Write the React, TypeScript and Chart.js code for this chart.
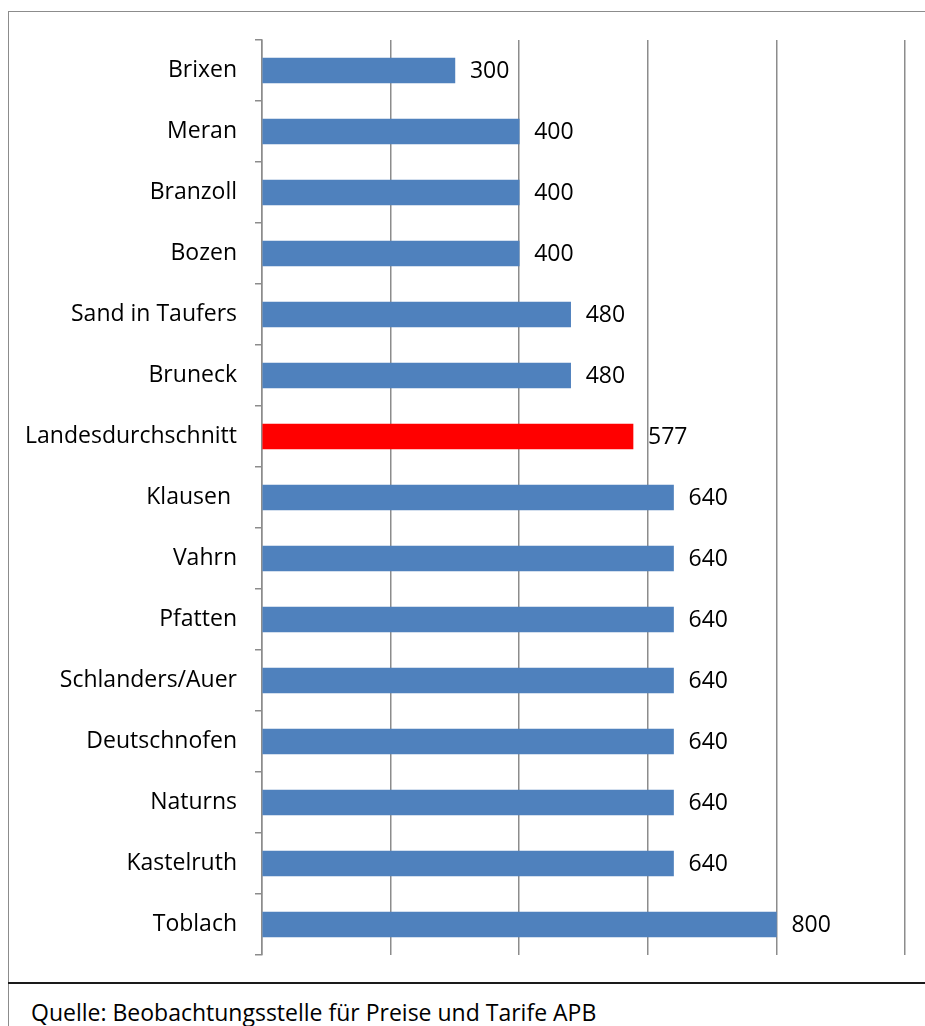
import React, { useEffect, useRef } from "react";
import { Chart, registerables } from "chart.js";

Chart.register(...registerables);

const categories = [
  "Brixen",
  "Meran",
  "Branzoll",
  "Bozen",
  "Sand in Taufers",
  "Bruneck",
  "Landesdurchschnitt",
  "Klausen ",
  "Vahrn",
  "Pfatten",
  "Schlanders/Auer",
  "Deutschnofen",
  "Naturns",
  "Kastelruth",
  "Toblach",
];
const values = [300, 400, 400, 400, 480, 480, 577, 640, 640, 640, 640, 640, 640, 640, 800];
const highlighted = "Landesdurchschnitt";
const xMin = 0;
const xMax = 1000;
const xStep = 200;
const sourceText = "Quelle: Beobachtungsstelle für Preise und Tarife APB";

const FONT = '"Open Sans", "Noto Sans", sans-serif';
const FONT_SIZE = 23;
const BLUE = "#4f81bd";
const RED = "#ff0000";
const GRID = "#8c8c8c";

const valueLabels = {
  id: "valueLabels",
  afterDatasetsDraw(chart: any) {
    const ctx = chart.ctx;
    const meta = chart.getDatasetMeta(0);
    ctx.save();
    ctx.font = `${FONT_SIZE}px ${FONT}`;
    ctx.fillStyle = "#000";
    ctx.textBaseline = "middle";
    ctx.textAlign = "left";
    meta.data.forEach((bar: any, i: number) => {
      ctx.fillText(String(values[i]), bar.x + 15, bar.y + 1);
    });
    ctx.restore();
  },
};

export default function App() {
  const canvasRef = useRef<HTMLCanvasElement | null>(null);

  useEffect(() => {
    let chart: Chart | null = null;
    let cancelled = false;
    const build = () => {
      if (cancelled || !canvasRef.current) return;
      chart = new Chart(canvasRef.current, {
        type: "bar",
        data: {
          labels: categories,
          datasets: [
            {
              data: values,
              backgroundColor: categories.map((c) => (c === highlighted ? RED : BLUE)),
              borderWidth: 0,
              barThickness: 25,
            },
          ],
        },
        options: {
          indexAxis: "y",
          animation: false,
          responsive: true,
          maintainAspectRatio: false,
          layout: { padding: { top: 28, right: 20, bottom: 27, left: 0 } },
          plugins: {
            legend: { display: false },
            tooltip: { enabled: false },
          },
          scales: {
            x: {
              type: "linear",
              min: xMin,
              max: xMax,
              ticks: { display: false, stepSize: xStep },
              grid: { color: GRID, lineWidth: 1.5, drawTicks: false },
              border: { display: false },
              afterFit: (s: any) => {
                s.height = 0;
                s.paddingLeft = 0;
                s.paddingRight = 0;
              },
            },
            y: {
              type: "category",
              grid: {
                drawOnChartArea: false,
                offset: true,
                tickLength: 7,
                color: GRID,
                lineWidth: 1.5,
              },
              border: { display: true, color: GRID, width: 1.5 },
              ticks: {
                color: "#000",
                padding: 18,
                font: { family: FONT, size: FONT_SIZE },
              },
              afterFit: (s: any) => {
                s.width = 253;
                s.paddingTop = 0;
                s.paddingBottom = 0;
              },
            },
          },
        },
        plugins: [valueLabels],
      });
    };
    const fontsReady = (document as any).fonts
      ? (document as any).fonts.load(`${FONT_SIZE}px "Open Sans"`).catch(() => null)
      : Promise.resolve();
    fontsReady.then(build);
    return () => {
      cancelled = true;
      if (chart) chart.destroy();
    };
  }, []);

  return (
    <div
      style={{
        position: "fixed",
        left: 0,
        top: 0,
        width: 925,
        height: 1026,
        overflow: "hidden",
        background: "#fff",
      }}
    >
      <div
        style={{
          position: "absolute",
          left: 8,
          top: 11,
          width: 930,
          height: 1030,
          borderLeft: `1.5px solid ${GRID}`,
          borderTop: `1.5px solid ${GRID}`,
        }}
      />
      <div style={{ position: "absolute", left: 9, top: 12, width: 916, height: 970 }}>
        <canvas ref={canvasRef} />
      </div>
      <div
        style={{
          position: "absolute",
          left: 8,
          top: 982,
          width: 930,
          height: 2,
          background: "#1a1a1a",
        }}
      />
      <div
        style={{
          position: "absolute",
          left: 31,
          top: 1001,
          fontFamily: FONT,
          fontSize: 23,
          lineHeight: "23px",
          color: "#000",
          whiteSpace: "nowrap",
        }}
      >
        {sourceText}
      </div>
    </div>
  );
}
